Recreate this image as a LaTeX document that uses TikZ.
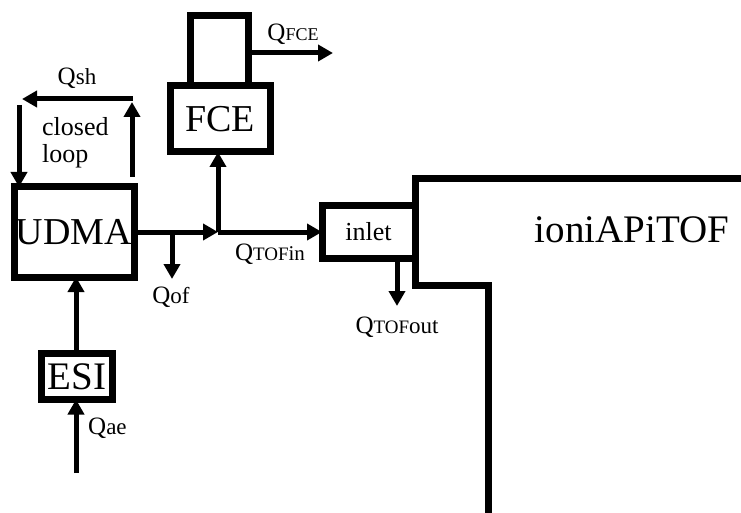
\documentclass[tikz,border=0pt]{standalone}
\usepackage{fontspec}
\setmainfont{Liberation Serif}
\usetikzlibrary{arrows.meta}
\newcommand\fs[1]{\fontsize{#1}{#1}\selectfont}
\tikzset{
  box/.style={draw, line width=7pt, inner sep=0pt, outer sep=0pt},
  arr/.style={line width=5pt, -{Triangle[length=15pt,width=16pt]}},
  wall/.style={line width=7pt},
  lab/.style={inner sep=0pt},
}
\begin{document}
\begin{tikzpicture}[x=1pt,y=-1pt]
\useasboundingbox[fill=white] (0,0) rectangle (741,513);
% boxes
\node[box, minimum width=120pt, minimum height=90pt, font=\fs{38}] (udma) at (74,232) {UDMA};
\node[box, minimum width=100pt, minimum height=66pt, font=\fs{38}] (fce) at (220,119) {FCE};
\node[box, minimum width=71pt, minimum height=46pt, font=\fs{39}] (esi) at (77,376.5) {ESI};
\node[box, minimum width=93pt, minimum height=53pt, font=\fs{26}] (inlet) at (368.5,231.5) {inlet};
% ioniAPiTOF wall
\draw[wall] (741,179) -- (415,179) -- (415,285) -- (488,285) -- (488,513);
\node[lab, font=\fs{39}] (tof) at (632,230) {ioniAPiTOF};
% FCE loop
\coordinate (fl) at (190,86);
\coordinate (fr) at (248,86);
\draw[wall] (fl) -- (190,15.5) -- (248,15.5) -- (fr);
\coordinate (qfs) at (248,53);
\coordinate (qfe) at (333,53);
\draw[arr] (qfs) -- (qfe);
\node[lab, font=\fs{25}] (qfcelab) at (293,34) {Q{\fs{18}FCE}};
% closed loop
\coordinate (shs) at (133,99);
\coordinate (she) at (22,99);
\draw[arr] (shs) -- (she);
\node[lab, font=\fs{25}] (qshlab) at (77,78) {Q{\fs{23}sh}};
\coordinate (dls) at (19,105);
\draw[arr] (dls) -- (dls |- udma.north);
\coordinate (uls) at (132,177);
\coordinate (ule) at (132,102);
\draw[arr] (uls) -- (ule);
\node[lab, font=\fs{26}, align=left, anchor=west] (cl1) at (42,127) {closed};
\node[lab, font=\fs{26}, align=left, anchor=west] (cl2) at (42,156) {loop};
% main flow
\coordinate (j) at (218,232);
\coordinate (of) at (172,232);
\draw[arr] (udma.east) -- (j);
\draw[arr] (j) -- (inlet.west |- j);
\draw[arr] (j) -- (j |- fce.south);
\coordinate (ofe) at (172,279);
\draw[arr] (of) -- (ofe);
\node[lab, font=\fs{25}] (qoflab) at (171,297) {Q{\fs{23}of}};
\node[lab, font=\fs{25}] (qtinlab) at (270,254) {Q{\fs{19}TOF}{\fs{21}in}};
% TOF out
\coordinate (tos) at (397,258);
\coordinate (toe) at (397,306);
\draw[arr] (tos) -- (toe);
\node[lab, font=\fs{25}] (qtoutlab) at (397,327) {Q{\fs{19}TOF}{\fs{23}out}};
% ESI
\coordinate (ae) at (76,473);
\draw[arr] (ae) -- (ae |- esi.south);
\draw[arr] (esi.north -| ae) -- (ae |- udma.south);
\node[lab, font=\fs{25}, anchor=west] (qaelab) at (88,428) {Q{\fs{23}ae}};
\end{tikzpicture}
\end{document}
